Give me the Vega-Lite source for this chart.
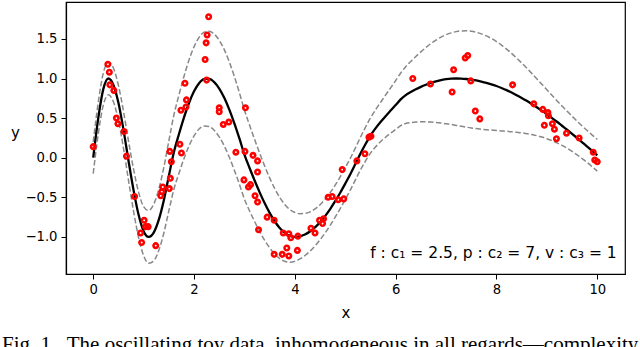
{
  "$schema": "https://vega.github.io/schema/vega-lite/v6.json",
  "width": 559,
  "height": 272,
  "autosize": {"type": "none"},
  "padding": {"left": 66, "top": 2, "right": 15, "bottom": 73},
  "background": "white",
  "title": {
    "text": "Fig. 1.\u00a0\u00a0The oscillating toy data, inhomogeneous in all regards\u2014complexity",
    "orient": "bottom",
    "anchor": "start",
    "frame": "group",
    "dx": -64,
    "offset": 14,
    "font": "Liberation Serif",
    "fontSize": 21,
    "fontWeight": "normal",
    "color": "black"
  },
  "datasets": {
    "curve": [
      {"x":0.0,"m":0.0,"up":0.2,"lo":-0.2},
      {"x":0.1,"m":0.5,"up":0.7,"lo":0.3},
      {"x":0.2,"m":0.866,"up":1.068,"lo":0.664},
      {"x":0.3,"m":1.0,"up":1.206,"lo":0.794},
      {"x":0.4,"m":0.92,"up":1.133,"lo":0.707},
      {"x":0.5,"m":0.693,"up":0.915,"lo":0.471},
      {"x":0.6,"m":0.355,"up":0.589,"lo":0.121},
      {"x":0.7,"m":-0.038,"up":0.21,"lo":-0.286},
      {"x":0.8,"m":-0.409,"up":-0.143,"lo":-0.675},
      {"x":0.9,"m":-0.721,"up":-0.435,"lo":-1.007},
      {"x":1.0,"m":-0.927,"up":-0.618,"lo":-1.236},
      {"x":1.1,"m":-1.0,"up":-0.667,"lo":-1.333},
      {"x":1.2,"m":-0.945,"up":-0.586,"lo":-1.304},
      {"x":1.3,"m":-0.785,"up":-0.399,"lo":-1.171},
      {"x":1.4,"m":-0.539,"up":-0.125,"lo":-0.953},
      {"x":1.5,"m":-0.231,"up":0.21,"lo":-0.672},
      {"x":1.6,"m":0.069,"up":0.538,"lo":-0.4},
      {"x":1.7,"m":0.296,"up":0.791,"lo":-0.199},
      {"x":1.8,"m":0.507,"up":1.026,"lo":-0.012},
      {"x":1.9,"m":0.691,"up":1.233,"lo":0.149},
      {"x":2.0,"m":0.838,"up":1.4,"lo":0.276},
      {"x":2.1,"m":0.941,"up":1.519,"lo":0.363},
      {"x":2.2,"m":0.993,"up":1.585,"lo":0.401},
      {"x":2.3,"m":0.995,"up":1.597,"lo":0.393},
      {"x":2.4,"m":0.954,"up":1.562,"lo":0.346},
      {"x":2.5,"m":0.873,"up":1.483,"lo":0.263},
      {"x":2.6,"m":0.756,"up":1.364,"lo":0.148},
      {"x":2.7,"m":0.607,"up":1.209,"lo":0.005},
      {"x":2.8,"m":0.434,"up":1.026,"lo":-0.158},
      {"x":2.9,"m":0.243,"up":0.821,"lo":-0.335},
      {"x":3.0,"m":0.04,"up":0.602,"lo":-0.522},
      {"x":3.1,"m":-0.127,"up":0.415,"lo":-0.669},
      {"x":3.2,"m":-0.284,"up":0.235,"lo":-0.803},
      {"x":3.3,"m":-0.434,"up":0.061,"lo":-0.929},
      {"x":3.4,"m":-0.572,"up":-0.103,"lo":-1.041},
      {"x":3.5,"m":-0.696,"up":-0.255,"lo":-1.137},
      {"x":3.6,"m":-0.802,"up":-0.388,"lo":-1.216},
      {"x":3.7,"m":-0.887,"up":-0.501,"lo":-1.273},
      {"x":3.8,"m":-0.949,"up":-0.59,"lo":-1.308},
      {"x":3.9,"m":-0.987,"up":-0.654,"lo":-1.32},
      {"x":4.0,"m":-1.0,"up":-0.691,"lo":-1.309},
      {"x":4.1,"m":-0.992,"up":-0.706,"lo":-1.278},
      {"x":4.2,"m":-0.969,"up":-0.703,"lo":-1.235},
      {"x":4.3,"m":-0.932,"up":-0.684,"lo":-1.18},
      {"x":4.4,"m":-0.88,"up":-0.646,"lo":-1.114},
      {"x":4.5,"m":-0.815,"up":-0.593,"lo":-1.037},
      {"x":4.6,"m":-0.737,"up":-0.524,"lo":-0.95},
      {"x":4.7,"m":-0.648,"up":-0.442,"lo":-0.854},
      {"x":4.8,"m":-0.549,"up":-0.347,"lo":-0.751},
      {"x":4.9,"m":-0.442,"up":-0.242,"lo":-0.642},
      {"x":5.0,"m":-0.327,"up":-0.127,"lo":-0.527},
      {"x":5.1,"m":-0.208,"up":-0.008,"lo":-0.408},
      {"x":5.2,"m":-0.08,"up":0.122,"lo":-0.282},
      {"x":5.3,"m":0.05,"up":0.256,"lo":-0.156},
      {"x":5.4,"m":0.17,"up":0.383,"lo":-0.043},
      {"x":5.5,"m":0.28,"up":0.502,"lo":0.058},
      {"x":5.6,"m":0.37,"up":0.604,"lo":0.136},
      {"x":5.7,"m":0.45,"up":0.698,"lo":0.202},
      {"x":5.8,"m":0.525,"up":0.791,"lo":0.259},
      {"x":5.9,"m":0.595,"up":0.881,"lo":0.309},
      {"x":6.0,"m":0.665,"up":0.974,"lo":0.356},
      {"x":6.1,"m":0.737,"up":1.07,"lo":0.404},
      {"x":6.2,"m":0.791,"up":1.15,"lo":0.432},
      {"x":6.3,"m":0.829,"up":1.215,"lo":0.443},
      {"x":6.4,"m":0.864,"up":1.278,"lo":0.45},
      {"x":6.5,"m":0.895,"up":1.336,"lo":0.454},
      {"x":6.6,"m":0.922,"up":1.391,"lo":0.453},
      {"x":6.7,"m":0.946,"up":1.441,"lo":0.451},
      {"x":6.8,"m":0.965,"up":1.484,"lo":0.446},
      {"x":6.9,"m":0.981,"up":1.523,"lo":0.439},
      {"x":7.0,"m":0.991,"up":1.553,"lo":0.429},
      {"x":7.1,"m":0.998,"up":1.576,"lo":0.42},
      {"x":7.2,"m":1.0,"up":1.592,"lo":0.408},
      {"x":7.3,"m":0.999,"up":1.601,"lo":0.397},
      {"x":7.4,"m":0.994,"up":1.602,"lo":0.386},
      {"x":7.5,"m":0.986,"up":1.596,"lo":0.376},
      {"x":7.6,"m":0.976,"up":1.584,"lo":0.368},
      {"x":7.7,"m":0.962,"up":1.564,"lo":0.36},
      {"x":7.8,"m":0.946,"up":1.538,"lo":0.354},
      {"x":7.9,"m":0.927,"up":1.505,"lo":0.349},
      {"x":8.0,"m":0.905,"up":1.467,"lo":0.343},
      {"x":8.1,"m":0.88,"up":1.422,"lo":0.338},
      {"x":8.2,"m":0.853,"up":1.372,"lo":0.334},
      {"x":8.3,"m":0.823,"up":1.318,"lo":0.328},
      {"x":8.4,"m":0.79,"up":1.259,"lo":0.321},
      {"x":8.5,"m":0.755,"up":1.196,"lo":0.314},
      {"x":8.6,"m":0.718,"up":1.132,"lo":0.304},
      {"x":8.7,"m":0.679,"up":1.065,"lo":0.293},
      {"x":8.8,"m":0.637,"up":0.996,"lo":0.278},
      {"x":8.9,"m":0.594,"up":0.927,"lo":0.261},
      {"x":9.0,"m":0.549,"up":0.858,"lo":0.24},
      {"x":9.1,"m":0.502,"up":0.788,"lo":0.216},
      {"x":9.2,"m":0.454,"up":0.72,"lo":0.188},
      {"x":9.3,"m":0.404,"up":0.652,"lo":0.156},
      {"x":9.4,"m":0.354,"up":0.588,"lo":0.12},
      {"x":9.5,"m":0.302,"up":0.524,"lo":0.08},
      {"x":9.6,"m":0.249,"up":0.462,"lo":0.036},
      {"x":9.7,"m":0.195,"up":0.401,"lo":-0.011},
      {"x":9.8,"m":0.141,"up":0.343,"lo":-0.061},
      {"x":9.9,"m":0.086,"up":0.286,"lo":-0.114},
      {"x":10.0,"m":0.031,"up":0.231,"lo":-0.169}
    ],
    "pts": [
      {"x":0.0,"y":0.14},{"x":0.29,"y":1.18},{"x":0.32,"y":1.08},{"x":0.33,"y":0.92},
      {"x":0.41,"y":0.85},{"x":0.46,"y":0.5},{"x":0.49,"y":0.43},{"x":0.61,"y":0.33},
      {"x":0.66,"y":0.02},{"x":0.82,"y":-0.49},{"x":1.01,"y":-0.79},{"x":1.04,"y":-0.87},
      {"x":1.09,"y":-0.87},{"x":0.94,"y":-0.95},{"x":0.96,"y":-1.07},{"x":1.24,"y":-1.11},
      {"x":1.34,"y":-0.48},{"x":1.36,"y":-0.43},{"x":1.38,"y":-0.37},{"x":1.51,"y":-0.39},
      {"x":1.53,"y":-0.26},{"x":1.55,"y":-0.05},{"x":1.52,"y":0.08},{"x":1.72,"y":0.17},
      {"x":1.75,"y":0.06},{"x":1.74,"y":0.6},{"x":1.84,"y":0.64},{"x":1.85,"y":0.73},
      {"x":1.82,"y":0.94},{"x":2.25,"y":0.98},{"x":2.22,"y":1.24},{"x":2.24,"y":1.45},
      {"x":2.26,"y":1.55},{"x":2.29,"y":1.78},{"x":2.5,"y":0.63},{"x":2.5,"y":0.58},
      {"x":2.58,"y":0.42},{"x":2.69,"y":0.45},{"x":3.02,"y":0.63},{"x":2.83,"y":0.07},
      {"x":3.01,"y":0.08},{"x":3.17,"y":0.03},{"x":3.26,"y":-0.04},{"x":3.26,"y":-0.18},
      {"x":2.99,"y":-0.28},{"x":3.12,"y":-0.34},{"x":3.08,"y":-0.37},{"x":3.21,"y":-0.48},
      {"x":3.26,"y":-0.56},{"x":3.45,"y":-0.75},{"x":3.59,"y":-0.79},{"x":3.28,"y":-0.91},
      {"x":3.59,"y":-1.22},{"x":3.75,"y":-1.22},{"x":3.84,"y":-1.14},{"x":3.88,"y":-1.24},
      {"x":4.05,"y":-1.17},{"x":3.77,"y":-0.95},{"x":3.88,"y":-0.96},{"x":3.92,"y":-1.01},
      {"x":4.06,"y":-0.99},{"x":4.32,"y":-0.89},{"x":4.4,"y":-0.95},{"x":4.49,"y":-0.79},
      {"x":4.57,"y":-0.77},{"x":4.55,"y":-0.83},{"x":4.66,"y":-0.5},{"x":4.74,"y":-0.49},
      {"x":4.86,"y":-0.53},{"x":4.97,"y":-0.52},{"x":4.94,"y":-0.15},{"x":5.23,"y":-0.04},
      {"x":5.39,"y":0.05},{"x":5.47,"y":0.26},{"x":5.51,"y":0.27},{"x":6.34,"y":1.0},
      {"x":6.69,"y":0.93},{"x":7.12,"y":0.83},{"x":7.15,"y":1.11},{"x":7.38,"y":1.26},
      {"x":7.43,"y":1.29},{"x":7.49,"y":0.97},{"x":7.58,"y":0.59},{"x":7.67,"y":0.49},
      {"x":8.32,"y":0.92},{"x":8.74,"y":0.68},{"x":8.92,"y":0.61},{"x":9.02,"y":0.57},
      {"x":9.03,"y":0.53},{"x":9.11,"y":0.43},{"x":8.95,"y":0.41},{"x":9.15,"y":0.36},
      {"x":9.19,"y":0.24},{"x":9.39,"y":0.31},{"x":9.64,"y":0.25},{"x":9.92,"y":0.07},
      {"x":9.95,"y":-0.03},{"x":10.0,"y":-0.05}
    ],
    "note": [{"label": "f : c\u2081 = 2.5, p : c\u2082 = 7, v : c\u2083 = 1"}]
  },
  "encoding": {
    "x": {
      "type": "quantitative",
      "scale": {"domain": [-0.54, 10.55], "nice": false, "zero": false},
      "axis": {"values": [0, 2, 4, 6, 8, 10], "title": "x", "titleY": 43, "titleBaseline": "alphabetic"}
    },
    "y": {
      "type": "quantitative",
      "scale": {"domain": [-1.468, 1.966], "nice": false, "zero": false},
      "axis": {"values": [-1, -0.5, 0, 0.5, 1, 1.5], "format": ".1f", "title": "y", "titleAngle": 0, "titleX": -51, "titleY": 130, "titleAlign": "center", "titleBaseline": "middle"}
    }
  },
  "layer": [
    {
      "data": {"name": "curve"},
      "mark": {"type": "line", "color": "#888888", "strokeWidth": 1.5, "strokeDash": [5.5, 2.5], "interpolate": "monotone"},
      "encoding": {"x": {"field": "x"}, "y": {"field": "up"}}
    },
    {
      "data": {"name": "curve"},
      "mark": {"type": "line", "color": "#888888", "strokeWidth": 1.5, "strokeDash": [5.5, 2.5], "interpolate": "monotone"},
      "encoding": {"x": {"field": "x"}, "y": {"field": "lo"}}
    },
    {
      "data": {"name": "curve"},
      "mark": {"type": "line", "color": "black", "strokeWidth": 2.3, "interpolate": "monotone"},
      "encoding": {"x": {"field": "x"}, "y": {"field": "m"}}
    },
    {
      "data": {"name": "pts"},
      "mark": {"type": "point", "shape": "circle", "filled": false, "stroke": "#ff0000", "strokeWidth": 2.6, "size": 20, "opacity": 1},
      "encoding": {"x": {"field": "x"}, "y": {"field": "y"}}
    },
    {
      "data": {"name": "note"},
      "mark": {"type": "text", "align": "right", "baseline": "middle", "font": "DejaVu Sans", "fontSize": 15.5, "color": "black"},
      "encoding": {"x": {"datum": 10.385}, "y": {"datum": -1.2}, "text": {"field": "label"}}
    }
  ],
  "config": {
    "view": {"stroke": "black", "strokeWidth": 1.2},
    "axis": {
      "grid": false,
      "domainColor": "black",
      "domainWidth": 1.2,
      "tickColor": "black",
      "tickSize": 5,
      "tickWidth": 1,
      "labelColor": "black",
      "labelFont": "DejaVu Sans",
      "labelFontSize": 13.2,
      "labelPadding": 4,
      "titleColor": "black",
      "titleFont": "DejaVu Sans",
      "titleFontSize": 15,
      "titleFontWeight": "normal"
    }
  }
}
